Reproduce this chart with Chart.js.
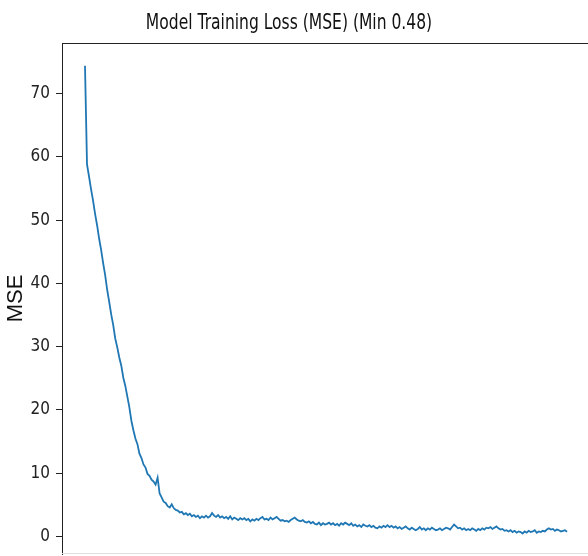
<!DOCTYPE html>
<html>
<head>
<meta charset="utf-8">
<script src="https://cdn.jsdelivr.net/npm/chart.js@4"></script>
<style>
  html, body { margin: 0; padding: 0; background: #fff; }
  #wrap { width: 588px; height: 556px; position: relative; }
</style>
</head>
<body>
<div id="wrap"><canvas id="lossChart"></canvas></div>
<script>
// Training loss per epoch
const chartTitle = 'Model Training Loss (MSE) (Min 0.48)';
const yLabel = 'MSE';
const yTicks = [0, 10, 20, 30, 40, 50, 60, 70];
const loss = [
  74.4, 58.8, 56.9, 54.9, 53.1, 51.0, 49.2, 47.1, 45.3, 43.2,
  41.3, 39.0, 37.1, 35.1, 33.4, 31.3, 29.9, 28.3, 27.0, 25.1,
  23.8, 22.1, 20.4, 18.3, 16.8, 15.5, 14.6, 13.1, 12.4, 11.4,
  10.9, 9.9, 9.6, 9.0, 8.7, 8.2, 9.3, 6.8, 6.2, 5.5,
  5.3, 4.8, 4.6, 5.1, 4.5, 4.2, 4.1, 3.8, 3.9, 3.5,
  3.7, 3.4, 3.6, 3.2, 3.4, 3.1, 3.3, 2.9, 3.2, 3.0,
  3.3, 3.0, 3.2, 3.7, 3.3, 3.1, 3.4, 3.0, 3.2, 2.9,
  3.1, 2.8, 3.2, 2.7, 3.0, 2.8, 2.6, 2.9, 2.7, 2.9,
  2.6, 2.8, 2.4, 2.7, 2.5, 2.8, 2.6, 2.9, 3.1, 2.7,
  2.8, 2.6, 3.0, 2.7, 2.9, 3.1, 2.8, 2.5, 2.6, 2.4,
  2.5, 2.3, 2.6, 2.8, 3.0, 2.7, 2.5, 2.4, 2.6, 2.3,
  2.2, 2.4, 2.1, 2.3, 2.0, 1.9, 2.2, 1.8, 2.1, 1.9,
  2.0, 2.2, 1.9, 2.1, 1.8, 2.0, 1.7, 2.1, 1.9, 2.2,
  2.0, 1.8, 2.1, 1.7, 1.9, 1.6, 1.8, 1.5, 1.9, 1.7,
  1.6, 1.8, 1.5, 1.7, 1.4, 1.3, 1.6, 1.4, 1.7, 1.5,
  1.8, 1.5, 1.7, 1.4, 1.6, 1.3, 1.5, 1.2, 1.4, 1.6,
  1.3, 1.1, 1.4, 1.2, 1.0, 1.2, 1.5, 1.1, 1.3, 1.0,
  1.3, 1.1, 1.4, 1.2, 1.0, 1.1, 1.3, 1.0, 1.2, 1.4,
  1.3, 1.1, 1.5, 1.9, 1.6, 1.3, 1.4, 1.1, 1.3, 1.0,
  1.2, 1.0, 1.3, 1.1, 0.9, 1.2, 1.0, 1.3, 1.1, 1.4,
  1.3, 1.5, 1.2, 1.4, 1.6, 1.3, 1.1, 1.2, 0.9, 1.0,
  0.8, 1.0, 0.7, 0.9, 0.6, 0.8, 0.7, 0.48, 0.8, 0.6,
  0.9, 0.7, 0.8, 1.0, 0.6, 0.8, 0.7, 0.9, 0.8, 1.1,
  1.3, 1.1, 1.2, 0.9, 1.1, 1.0, 0.8, 0.9, 1.0, 0.75
];

// top spine, faint bottom edge and a narrow-set title, like the source figure
const framePlugin = {
  id: 'frame',
  afterDraw(chart) {
    const { ctx, chartArea: a } = chart;
    ctx.save();
    ctx.strokeStyle = '#222';
    ctx.lineWidth = 1;
    ctx.beginPath();
    ctx.moveTo(a.left, a.top + 0.5);
    ctx.lineTo(a.right, a.top + 0.5);
    ctx.stroke();
    ctx.strokeStyle = '#ddd';
    ctx.beginPath();
    ctx.moveTo(a.left, a.bottom - 0.5);
    ctx.lineTo(a.right, a.bottom - 0.5);
    ctx.stroke();

    // title, squeezed horizontally
    ctx.fillStyle = '#111';
    ctx.font = "21px 'DejaVu Sans', sans-serif";
    ctx.textAlign = 'center';
    ctx.textBaseline = 'middle';
    ctx.translate(289, 24);
    ctx.scale(0.74, 1);
    ctx.fillText(chartTitle, 0, 0);
    ctx.restore();
  }
};

const ctx = document.getElementById('lossChart').getContext('2d');
new Chart(ctx, {
  type: 'line',
  data: {
    datasets: [{
      data: loss.map((v, i) => ({ x: i, y: v })),
      borderColor: '#1f77b4',
      borderWidth: 1.8,
      pointRadius: 0,
      tension: 0,
      fill: false
    }]
  },
  options: {
    responsive: true,
    maintainAspectRatio: false,
    animation: false,
    layout: { padding: { left: 0, right: 0, top: 43, bottom: 2 } },
    plugins: {
      legend: { display: false },
      tooltip: { enabled: false },
      title: { display: false }
    },
    scales: {
      x: {
        type: 'linear',
        display: false,
        min: -11.4,
        max: 249.4
      },
      y: {
        min: -2.76,
        max: 78,
        afterBuildTicks: s => { s.ticks = yTicks.map(v => ({ value: v })); },
        afterFit: s => { s.width = 62; s.paddingTop = 0; s.paddingBottom = 0; },
        border: { display: true, color: '#222', width: 1 },
        grid: { drawOnChartArea: false, drawTicks: true, tickLength: 6, color: '#222' },
        ticks: {
          color: '#222',
          padding: 6,
          font: { family: "'DejaVu Sans Condensed', 'DejaVu Sans', sans-serif", size: 17 }
        },
        title: {
          display: true,
          text: yLabel,
          color: '#111',
          font: { family: "'Liberation Sans', sans-serif", size: 22 },
          padding: { top: 3, bottom: 0 }
        }
      }
    }
  },
  plugins: [framePlugin]
});
</script>
</body>
</html>
